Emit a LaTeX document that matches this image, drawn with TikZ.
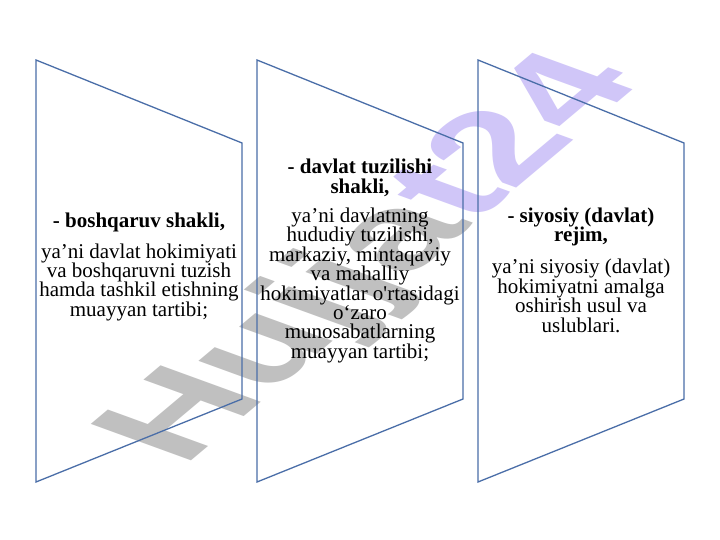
\documentclass[tikz,border=0pt]{standalone}
\usepackage{fontspec}
\setmainfont{Liberation Serif}[Ligatures=TeXOff]
\newfontfamily\wmfont{Liberation Sans}[Ligatures=TeXOff]
\definecolor{panelblue}{RGB}{74,110,168}
\definecolor{wmgray}{RGB}{192,192,192}
\definecolor{wmlav}{RGB}{208,198,248}
\begin{document}
\begin{tikzpicture}[x=1pt,y=-1pt,
  panel/.style={draw=panelblue, line width=1.3pt, line join=miter},
  txt/.style={align=center, font=\fontsize{21}{19.4}\selectfont, text=black, inner sep=0pt},
  wmtext/.style={transform shape, anchor=base west, inner sep=0pt, font=\wmfont\bfseries\fontsize{155}{155}\selectfont}]
\useasboundingbox (0,0) rectangle (720,540);
\fill[white] (0,0) rectangle (720,540);
% watermark
\begin{scope}[shift={(183,468)}]
\begin{scope}[cm={0.766,0.643,-0.940,0.342,(0,0)}]
\node[wmtext] (wm) at (0,0) {\textcolor{wmgray}{Hujja}\textcolor{wmlav}{t24}};
\end{scope}
\end{scope}
% panels
\draw[panel] (36,60) -- (242,143) -- (242,399) -- (36,482) -- cycle;
\draw[panel] (257,60) -- (463,143) -- (463,399) -- (257,482) -- cycle;
\draw[panel] (478,60) -- (684,143) -- (684,399) -- (478,482) -- cycle;
% texts
\node[txt] (t1) at (139,267) {\textbf{- boshqaruv shakli,}\\[11pt]
ya’ni davlat hokimiyati\\ va boshqaruvni tuzish\\ hamda tashkil etishning\\ muayyan tartibi;};
\node[txt] (t2) at (360,261) {\textbf{- davlat tuzilishi}\\ \textbf{shakli,}\\[10pt]
ya’ni davlatning\\ hududiy tuzilishi,\\ markaziy, mintaqaviy\\ va mahalliy\\ hokimiyatlar o'rtasidagi\\ o‘zaro\\ munosabatlarning\\ muayyan tartibi;};
\node[txt] (t3) at (581,270) {\textbf{- siyosiy (davlat)}\\ \textbf{rejim,}\\[13pt]
ya’ni siyosiy (davlat)\\ hokimiyatni amalga\\ oshirish usul va\\ uslublari.};
\end{tikzpicture}
\end{document}
